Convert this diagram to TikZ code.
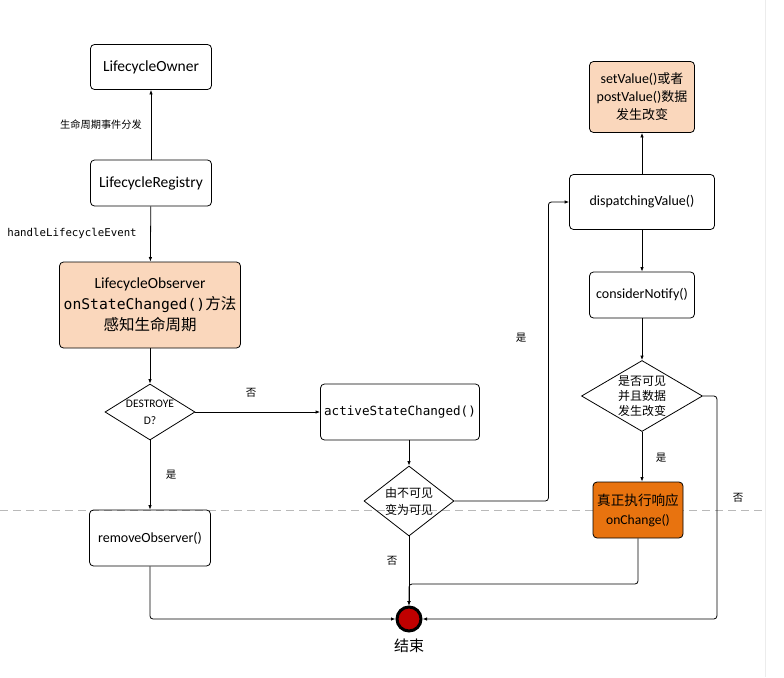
\documentclass[tikz,border=0pt]{standalone}
\usepackage{fontspec}
\usepackage{xcolor}
\usepackage{tikz}
\setmainfont{Carlito}
\setmonofont{DejaVu Sans Mono}
\newfontfamily\cjk{Noto Sans CJK SC}
\newcommand{\zh}[1]{{\cjk #1}}
\usetikzlibrary{shapes.geometric,arrows.meta,positioning,calc}

\definecolor{peach}{HTML}{FAD7BC}
\definecolor{deeporange}{HTML}{E8730F}
\definecolor{endred}{HTML}{C00000}

\tikzset{
    box/.style={draw, line width=0.8pt, rounded corners=4pt, align=center, inner sep=0pt,
        font=\fontsize{14}{18}\selectfont},
    bigbox/.style={box, font=\fontsize{15.5}{21}\selectfont},
    decision/.style={draw, line width=0.8pt, diamond, inner sep=0pt},
    flow/.style={line width=0.8pt, rounded corners=3pt, -{Latex[length=4.5pt,width=3.5pt]}},
    lbl/.style={font=\cjk\fontsize{10.5}{13}\selectfont},
}

\begin{document}
\begin{tikzpicture}[x=1pt,y=-1pt]
    \useasboundingbox (0,0) rectangle (784,677);

    % page break lines
    \draw[gray!55, line width=0.8pt, dash pattern=on 8pt off 5pt] (0,510) -- (766,510);
    \draw[gray!15, line width=0.8pt] (765,0) -- (765,677);

    % Lifecycle side
    \node[bigbox, minimum width=121pt, minimum height=45pt] (owner) at (151,67) {LifecycleOwner};
    \node[bigbox, minimum width=121pt, minimum height=46pt] (registry) at (151,183) {LifecycleRegistry};
    \node[bigbox, fill=peach, minimum width=181pt, minimum height=86pt] (observer) at (150,305)
        {LifecycleObserver\\\texttt{\fontsize{14.7}{21}\selectfont onStateChanged()}\zh{方法}\\\zh{感知生命周期}};
    \node[decision, minimum width=90pt, minimum height=56pt,
        label={[align=center, font=\fontsize{11.5}{17}\selectfont]center:DESTROYE\\D?}] (destroyed) at (150,412) {};
    \node[box, minimum width=159pt, minimum height=56pt,
        font=\ttfamily\fontsize{12.6}{15}\selectfont] (active) at (400,412) {activeStateChanged()};
    \node[box, minimum width=121pt, minimum height=56pt] (remove) at (150,538) {removeObserver()};
    \node[decision, minimum width=90pt, minimum height=70pt,
        label={[align=center, font=\cjk\fontsize{12}{17}\selectfont]center:由不可见\\变为可见}] (visible) at (409,501) {};

    % LiveData side
    \node[box, fill=peach, minimum width=105pt, minimum height=71pt] (setvalue) at (642,97)
        {setValue()\zh{\fontsize{13}{18}\selectfont 或者}\\postValue()\zh{\fontsize{13}{18}\selectfont 数据}\\\zh{\fontsize{13}{18}\selectfont 发生改变}};
    \node[box, minimum width=145pt, minimum height=55pt] (dispatch) at (642,202) {dispatchingValue()};
    \node[box, minimum width=105pt, minimum height=46pt] (consider) at (642,295) {considerNotify()};
    \node[decision, minimum width=121pt, minimum height=71pt,
        label={[align=center, font=\cjk\fontsize{12}{15}\selectfont]center:是否可见\\并且数据\\发生改变}] (changed) at (642,396) {};
    \node[box, fill=deeporange, minimum width=90pt, minimum height=56pt, font=\fontsize{13.6}{19}\selectfont] (onchange) at (638,510)
        {\zh{真正执行响应}\\onChange()};

    % End
    \node[circle, draw, line width=3pt, fill=endred, minimum size=24pt, inner sep=0pt] (endnode) at (409,619) {};
    \node[font=\cjk\fontsize{15}{18}\selectfont] (endtext) at (409,646) {结束};

    % Connectors
    \draw[flow] (registry) -- (owner);
    \draw[flow] (registry) -- (observer);
    \draw[flow] (observer) -- (destroyed);
    \draw[flow] (destroyed) -- (active);
    \draw[flow] (destroyed) -- (remove);
    \draw[flow] (active.south -| visible.north) -- (visible.north);
    \draw[flow] (visible.east) -- ++(94,0) |- (dispatch.west);
    \draw[flow] (dispatch) -- (setvalue);
    \draw[flow] (dispatch) -- (consider);
    \draw[flow] (consider) -- (changed);
    \draw[flow] (changed.south) -- (changed.south |- onchange.north);
    \draw[flow] (visible.south) -- (endnode.north);
    \coordinate (join) at (409,584);
    \draw[flow] (onchange.south) |- (join) -- (endnode.north);
    \draw[flow] (changed.east) -- ++(14,0) |- (endnode.east);
    \draw[flow] (remove.south) |- (endnode.west);

    % Labels
    \node[lbl, font=\cjk\fontsize{10.2}{13}\selectfont] (l-event) at (101,125) {生命周期事件分发};
    \node[font=\ttfamily\fontsize{10.75}{13}\selectfont] (l-handle) at (72,234) {handleLifecycleEvent};
    \foreach \n/\x/\y/\txt in {a/251/393/否, b/171/475/是, c/521/338/是, d/392/561/否, e/661/458/是, f/738/498/否} {
        \node[lbl] (l-\n) at (\x,\y) {\txt};
    }
\end{tikzpicture}
\end{document}
